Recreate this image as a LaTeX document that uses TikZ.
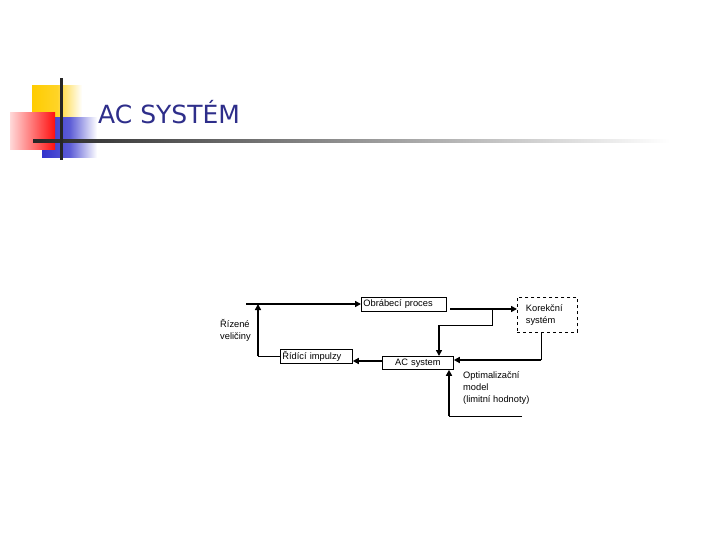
\documentclass[tikz,border=0pt]{standalone}
\usepackage{fontspec}
\setmainfont{Liberation Sans}
\newfontfamily\titlefont{DejaVu Sans}
\usetikzlibrary{arrows.meta}
\definecolor{titleblue}{HTML}{2E2E8A}
\definecolor{decoyellow}{HTML}{FFCC00}
\definecolor{decored}{HTML}{FF1010}
\definecolor{decoblue}{HTML}{3333CC}
\tikzset{
  boxn/.style={draw, line width=0.8pt, inner sep=1pt, anchor=north west, font=\fontsize{9.3}{10}\selectfont, align=left},
  thickln/.style={line width=2.2pt},
  thinln/.style={line width=0.9pt},
  arr/.style={-{Triangle[length=6pt,width=6pt]}},
  lbl/.style={font=\fontsize{9.3}{12}\selectfont, align=left, anchor=north west, inner sep=0pt}
}
\begin{document}
\begin{tikzpicture}[x=1pt,y=-1pt]
\useasboundingbox (0,0) rectangle (720,540);
% decoration
\shade[left color=decoyellow, right color=white, middle color=decoyellow!85] (32,86) rectangle (82,133);
\shade[left color=decoblue, right color=white, middle color=decoblue!80] (42,118) rectangle (97,158);
\shade[left color=white!85!red, right color=decored] (10,113) rectangle (55,150);
\shade[left color=black!85, right color=white] (33,139.5) rectangle (670,142.5);
\fill[black!85] (59.5,78) rectangle (62.5,160);
\node[anchor=base west, inner sep=0pt, text=titleblue, font=\titlefont\fontsize{25}{28}\selectfont] (title) at (98,124) {AC SYSTÉM};
% boxes
\node[boxn, minimum width=85pt, minimum height=14pt, text width=81pt] (obr) at (361,297) {Obrábecí proces};
\node[boxn, minimum width=72pt, minimum height=14pt, text width=68pt] (rid) at (280,349) {Řídící impulzy};
\node[boxn, minimum width=71pt, minimum height=13pt, align=center, text width=67pt] (ac) at (382,356) {\raisebox{-2pt}{AC system}};
\node[boxn, dashed, minimum width=60pt, minimum height=35pt, text width=43pt, inner xsep=8pt, inner ysep=3pt, font=\fontsize{9.3}{12.5}\selectfont] (kor) at (517,297) {Korekční\\systém};
\node[lbl] (riz) at (220,319) {Řízené\\veličiny};
\node[lbl] (opt) at (463,371) {Optimalizační\\model\\(limitní hodnoty)};
% connectors
\coordinate (a1) at (246,304);
\draw[thickln, arr] (a1) -- (obr.west |- a1);
\coordinate (b1) at (258,356);
\draw[thinln] (rid.west |- b1) -- (b1);
\draw[thickln, arr] (b1) -- (258,304);
\coordinate (c1) at (383,361);
\draw[thickln, arr] (c1) -- (rid.east |- c1);
\coordinate (d1) at (450,309);
\draw[thickln, arr] (d1) -- (kor.west |- d1);
\coordinate (e1) at (492,309);
\coordinate (e2) at (492,325);
\coordinate (e3) at (439,325);
\draw[thinln] (e1) -- (e2) -- (e3);
\draw[thickln, arr] (e3) -- (ac.north -| e3);
\coordinate (f1) at (541,332);
\coordinate (f2) at (541,360);
\draw[thinln] (f1) -- (f2);
\draw[thickln, arr] (f2) -- (ac.east |- f2);
\coordinate (g1) at (522,416);
\coordinate (g2) at (449,416);
\draw[thinln] (g1) -- (g2);
\draw[thickln, arr] (g2) -- (ac.south -| g2);
\end{tikzpicture}
\end{document}
